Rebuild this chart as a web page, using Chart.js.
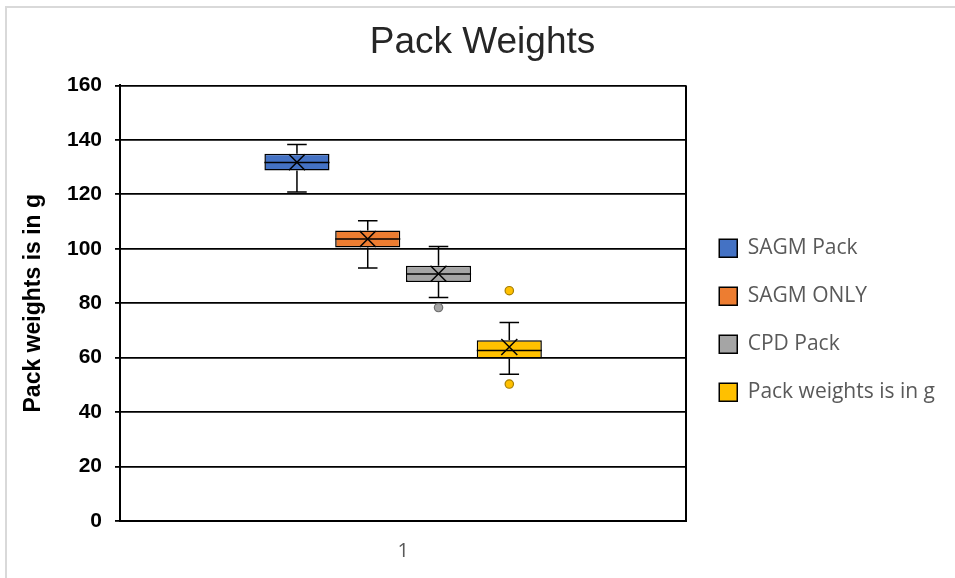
<!DOCTYPE html>
<html>
<head>
<meta charset="utf-8">
<script src="https://cdn.jsdelivr.net/npm/chart.js@4.4.1/dist/chart.umd.min.js"></script>
<style>
  html, body { margin: 0; padding: 0; background: #ffffff; }
  #wrap { position: relative; width: 955px; height: 578px; overflow: hidden; background: #ffffff; }
  #frame { position: absolute; left: 5px; top: 6px; width: 1000px; height: 1000px;
           border-left: 2px solid #d9d9d9; border-top: 2px solid #d9d9d9; box-sizing: border-box; }
  canvas { position: absolute; left: 0; top: 0; }
</style>
</head>
<body>
<div id="wrap">
  <div id="frame"></div>
  <canvas id="chart" width="955" height="578"></canvas>
</div>
<script>
// Pack weight distributions (g), one box per pack type
const categories = ['1'];
const seriesNames = ['SAGM Pack', 'SAGM ONLY', 'CPD Pack', 'Pack weights is in g'];
const minValues    = [120.8,  92.9,  82.1, 53.9];
const q1Values     = [128.7, 100.5,  87.8, 59.7];
const medianValues = [131.7, 103.6,  90.7, 62.6];
const q3Values     = [134.9, 106.7,  93.8, 66.4];
const maxValues    = [138.3, 110.3, 100.8, 72.9];
const meanValues   = [131.8, 103.6,  90.8, 63.9];
const outlierValues = [[], [], [78.4], [84.6, 50.3]];
const yTickValues = [0, 20, 40, 60, 80, 100, 120, 140, 160];

const fillColors = ['#4472C4', '#ED7D31', '#A5A5A5', '#FFC000'];
const pointEdges = ['#2F528F', '#AE5A21', '#6E6E6E', '#A67E00'];

const datasets = seriesNames.map((name, i) => ({
  label: name,
  data: [[q1Values[i], q3Values[i]]],
  yAxisID: 'y',
  backgroundColor: fillColors[i],
  borderColor: '#000000',
  borderWidth: 1.5,
  borderSkipped: false,
  categoryPercentage: 0.5,
  barPercentage: 0.92
}));

// Whiskers, medians, mean crosses and outliers on top of each box
const boxDetails = {
  id: 'boxDetails',
  afterDatasetsDraw(chart) {
    const ctx = chart.ctx;
    const y = chart.scales.y;
    ctx.save();
    chart.data.datasets.forEach((ds, i) => {
      const bar = chart.getDatasetMeta(i).data[0];
      if (!bar) return;
      const x = bar.x;
      const w = bar.width;
      const left = x - w / 2, right = x + w / 2;
      const cap = w * 0.15;
      ctx.strokeStyle = '#000000';
      ctx.lineWidth = 1.5;
      ctx.beginPath();
      ctx.moveTo(x, y.getPixelForValue(q3Values[i]));
      ctx.lineTo(x, y.getPixelForValue(maxValues[i]));
      ctx.moveTo(x, y.getPixelForValue(q1Values[i]));
      ctx.lineTo(x, y.getPixelForValue(minValues[i]));
      ctx.moveTo(x - cap, y.getPixelForValue(maxValues[i]));
      ctx.lineTo(x + cap, y.getPixelForValue(maxValues[i]));
      ctx.moveTo(x - cap, y.getPixelForValue(minValues[i]));
      ctx.lineTo(x + cap, y.getPixelForValue(minValues[i]));
      ctx.moveTo(left, y.getPixelForValue(medianValues[i]));
      ctx.lineTo(right, y.getPixelForValue(medianValues[i]));
      ctx.stroke();
      const my = y.getPixelForValue(meanValues[i]);
      const s = 8;
      ctx.beginPath();
      ctx.moveTo(x - s, my - s); ctx.lineTo(x + s, my + s);
      ctx.moveTo(x - s, my + s); ctx.lineTo(x + s, my - s);
      ctx.stroke();
      outlierValues[i].forEach(v => {
        ctx.beginPath();
        ctx.arc(x, y.getPixelForValue(v), 4.2, 0, Math.PI * 2);
        ctx.fillStyle = fillColors[i];
        ctx.fill();
        ctx.lineWidth = 1.2;
        ctx.strokeStyle = pointEdges[i];
        ctx.stroke();
      });
    });
    ctx.restore();
  }
};

function draw() {
  new Chart(document.getElementById('chart'), {
    type: 'bar',
    data: { labels: categories, datasets },
    plugins: [boxDetails],
    options: {
      responsive: false,
      animation: false,
      devicePixelRatio: 1,
      layout: { padding: { left: 20, right: 10, top: 8, bottom: 10 } },
      plugins: {
        tooltip: { enabled: false },
        title: {
          display: true,
          text: 'Pack Weights',
          color: '#262626',
          font: { family: 'Liberation Sans', size: 37, weight: 'normal' },
          padding: { top: 13, bottom: 20 }
        },
        legend: {
          position: 'right',
          align: 'center',
          maxWidth: 320,
          title: { display: true, text: '', padding: { top: 25, bottom: 25 } },
          labels: {
            color: '#595959',
            font: { family: 'Open Sans', size: 21 },
            boxWidth: 18,
            boxHeight: 18,
            padding: 27
          }
        }
      },
      scales: {
        x: {
          afterFit(scale) { scale.height = 47; },
          grid: { display: true, offset: true, color: '#000000', lineWidth: 2, drawTicks: false },
          border: { display: true, color: '#000000', width: 2 },
          ticks: { color: '#595959', font: { family: 'Open Sans', size: 20 }, padding: 18 }
        },
        y: {
          min: 0,
          max: 160,
          afterBuildTicks(scale) { scale.ticks = yTickValues.map(v => ({ value: v })); },
          afterFit(scale) { scale.width = 100; },
          grid: { color: '#000000', lineWidth: 1.8, tickLength: 5 },
          border: { display: true, color: '#000000', width: 2 },
          ticks: { color: '#000000', font: { family: 'Liberation Sans', size: 21, weight: 'bold' }, padding: 13 },
          title: {
            display: true,
            text: 'Pack weights is in g',
            color: '#000000',
            font: { family: 'Liberation Sans', size: 23, weight: 'bold' },
            padding: { top: 0, bottom: 0 }
          }
        },
        // narrow empty gutter between the plot frame and the legend
        gutter: {
          axis: 'y',
          position: 'right',
          min: 0,
          max: 160,
          afterFit(scale) { scale.width = 6; },
          grid: { display: false, drawOnChartArea: false },
          border: { display: false },
          ticks: { display: false }
        }
      }
    }
  });
}

const fontLoads = [
  '21px "Open Sans"', '20px "Open Sans"', 'bold 21px "Liberation Sans"', '37px "Liberation Sans"'
].map(f => document.fonts.load(f));
Promise.all(fontLoads).then(draw, draw);
</script>
</body>
</html>
